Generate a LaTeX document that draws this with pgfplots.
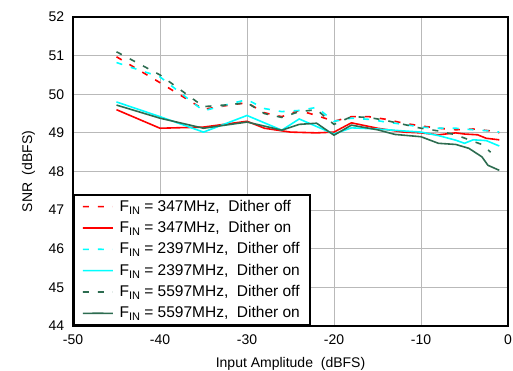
\documentclass[border=0pt]{standalone}
\usepackage{fontspec}
\setmainfont{Liberation Sans}
\usepackage{pgfplots}
\pgfplotsset{compat=1.18}
\definecolor{dgreen}{RGB}{45,108,80}
\definecolor{myred}{RGB}{255,0,0}
\definecolor{mycyan}{RGB}{0,255,255}
\newcommand{\FIN}{\hspace{4pt}F\raisebox{-0.35ex}{\fontsize{11pt}{11pt}\selectfont IN}}
\begin{document}
\fontsize{14pt}{17pt}\selectfont
\begin{tikzpicture}
\begin{axis}[
  name=ax,
  scale only axis,
  width=435pt, height=309pt,
  xmin=-50, xmax=0, ymin=44, ymax=52,
  xtick={-50,-40,...,0},
  ytick={44,45,...,52},
  grid=major,
  major grid style={gray!55, line width=0.9pt},
  major tick length=0pt,
  axis line style={line width=1.6pt},
  tick label style={font=\fontsize{14pt}{17pt}\selectfont},
  label style={font=\fontsize{14pt}{17pt}\selectfont},
  /pgf/number format/assume math mode=true,
  yticklabel style={xshift=-4pt},
  xticklabel style={yshift=-4pt},
  ylabel={SNR\ \ (dBFS)},
  xlabel={Input Amplitude\ \ (dBFS)},
  ylabel style={yshift=4pt},
  xlabel style={yshift=-3pt},
  legend style={at={(0,0)}, anchor=south west, draw=black, line width=2pt,
    fill=white, font=\fontsize{15.5pt}{18pt}\selectfont, row sep=4pt,
    inner xsep=8pt, inner ysep=3pt},
  legend cell align=left,
  legend image code/.code={\draw[#1] (0pt,0pt) -- (15pt,0.05pt) -- (30pt,0pt);},
]
\addlegendimage{myred, line width=1.6pt, dash pattern=on 6pt off 9pt}
\addlegendentry{\FIN{} = 347MHz,\ \ Dither off}
\addlegendimage{myred, line width=1.6pt}
\addlegendentry{\FIN{} = 347MHz,\ \ Dither on}
\addlegendimage{mycyan, line width=1.6pt, dash pattern=on 6pt off 9pt}
\addlegendentry{\FIN{} = 2397MHz,\ \ Dither off}
\addlegendimage{mycyan, line width=1.6pt}
\addlegendentry{\FIN{} = 2397MHz,\ \ Dither on}
\addlegendimage{dgreen, line width=1.6pt, dash pattern=on 6pt off 9pt}
\addlegendentry{\FIN{} = 5597MHz,\ \ Dither off}
\addlegendimage{dgreen, line width=1.6pt}
\addlegendentry{\FIN{} = 5597MHz,\ \ Dither on}
\addplot[forget plot, myred, line width=1.6pt, dash pattern=on 6pt off 9pt] coordinates {(-45,50.97)(-40,50.3)(-35,49.61)(-32,49.72)(-30,49.78)(-28,49.52)(-26,49.42)(-24,49.58)(-22,49.45)(-20,49.3)(-18,49.42)(-16,49.42)(-14,49.35)(-12,49.25)(-10,49.18)(-8,49.12)(-6,49.08)(-4,49.1)(-2,49.05)(-1,49.0)};
\addplot[forget plot, myred, line width=1.6pt] coordinates {(-45,49.6)(-40,49.12)(-35,49.15)(-30,49.3)(-28,49.12)(-25,49.02)(-22,49.0)(-20,49.02)(-18,49.26)(-15,49.12)(-12,49.02)(-10,49.0)(-8,48.95)(-6,49.0)(-5,48.97)(-3.5,48.95)(-2.5,48.86)(-1,48.82)};
\addplot[forget plot, mycyan, line width=1.6pt, dash pattern=on 6pt off 9pt] coordinates {(-45,50.82)(-40,50.45)(-35,49.57)(-32,49.75)(-30,49.86)(-28,49.63)(-26,49.55)(-24,49.58)(-22,49.66)(-20,49.3)(-18,49.38)(-16,49.35)(-14,49.28)(-12,49.22)(-10,49.15)(-8,49.12)(-6,49.12)(-4,49.08)(-2,49.05)(-1,49.02)};
\addplot[forget plot, mycyan, line width=1.6pt] coordinates {(-45,49.8)(-40,49.42)(-35,49.02)(-30,49.45)(-26,49.07)(-24,49.36)(-20,48.97)(-18,49.13)(-15,49.1)(-12,49.05)(-10,49.02)(-8,48.93)(-6,48.81)(-5,48.73)(-4,48.82)(-2.5,48.8)(-1,48.66)};
\addplot[forget plot, dgreen, line width=1.6pt, dash pattern=on 6pt off 9pt] coordinates {(-45,51.1)(-40,50.5)(-35,49.68)(-32,49.73)(-30,49.78)(-28,49.5)(-26,49.4)(-24,49.55)(-22,49.6)(-20,49.22)(-18,49.42)(-16,49.4)(-14,49.32)(-12,49.22)(-10,49.12)(-8,49.05)(-6,48.95)(-4,48.78)(-3,48.7)(-2,48.5)};
\addplot[forget plot, dgreen, line width=1.6pt] coordinates {(-45,49.72)(-40,49.38)(-35,49.12)(-30,49.28)(-26,49.07)(-24,49.22)(-22,49.25)(-20,48.94)(-18,49.2)(-15,49.08)(-13,48.96)(-10,48.9)(-8,48.73)(-6,48.7)(-4.5,48.6)(-3,48.38)(-2.3,48.16)(-1,48.03)};
\end{axis}
\pgfresetboundingbox
\useasboundingbox ([shift={(-73pt,-45pt)}]ax.south west) rectangle ([shift={(5pt,17pt)}]ax.north east);
\end{tikzpicture}
\end{document}
